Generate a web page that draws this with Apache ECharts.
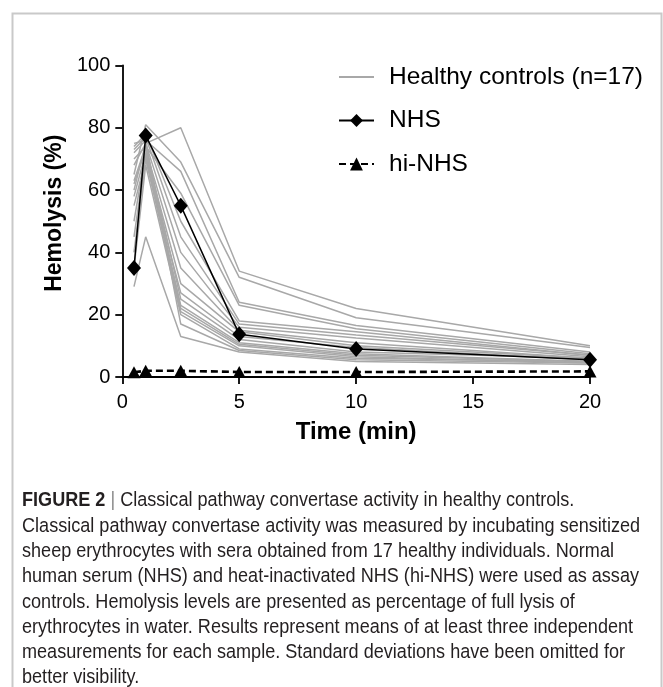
<!DOCTYPE html>
<html>
<head>
<meta charset="utf-8">
<script src="https://cdn.jsdelivr.net/npm/echarts@6/dist/echarts.min.js"></script>
<style>
html,body{margin:0;padding:0;background:#fff;}
#chart{width:663px;height:687px;}
</style>
</head>
<body>
<div id="chart"></div>
<script>
// Time points (min)
const times = [0.5, 1, 2.5, 5, 10, 20];
// Healthy controls (n=17), hemolysis % at each time point
const healthyControls = [
  [60, 75, 80, 34, 22, 10],
  [65, 81, 69, 32, 19, 9.5],
  [72, 76, 66, 24, 16.5, 8],
  [70, 74, 59, 23, 15.5, 7.5],
  [74, 78, 50, 18, 14.5, 7],
  [73, 77, 45, 17, 13.5, 7],
  [68, 75, 40, 16, 12.5, 6.5],
  [62, 73, 35, 15, 11, 6],
  [58, 72, 30, 14.5, 10, 6],
  [55, 70, 27, 13, 9.5, 5.5],
  [63, 74, 25, 12, 8, 6],
  [50, 72, 23, 11, 7.5, 5],
  [45, 71, 22, 10.5, 7, 5],
  [40, 70, 21, 10, 6.5, 4.5],
  [35, 68, 20, 9, 6, 5],
  [75, 76, 17, 8.5, 5.5, 4.5],
  [29, 45, 13, 8, 5, 4]
];
const nhs = [35, 77.5, 55, 13.7, 9, 5.5];
const hiNhs = [1.5, 2, 2, 1.6, 1.6, 1.8];
const xTicks = [0, 5, 10, 15, 20];
const yTicks = [0, 20, 40, 60, 80, 100];
const legendNames = ['Healthy controls (n=17)', 'NHS', 'hi-NHS'];
const captionLines = [
  'Classical pathway convertase activity in healthy controls.',
  'Classical pathway convertase activity was measured by incubating sensitized',
  'sheep erythrocytes with sera obtained from 17 healthy individuals. Normal',
  'human serum (NHS) and heat-inactivated NHS (hi-NHS) were used as assay',
  'controls. Hemolysis levels are presented as percentage of full lysis of',
  'erythrocytes in water. Results represent means of at least three independent',
  'measurements for each sample. Standard deviations have been omitted for',
  'better visibility.'
];

const pair = vals => times.map((t, i) => [t, vals[i]]);
const FONT = '"Liberation Sans", Arial, sans-serif';

const series = [];
healthyControls.forEach(vals => {
  series.push({
    name: legendNames[0], type: 'line', data: pair(vals),
    symbol: 'none', silent: true,
    lineStyle: {color: '#a8a8a8', width: 1.5},
    itemStyle: {color: '#a8a8a8'}, z: 2
  });
});
series.push({
  name: legendNames[1], type: 'line', data: pair(nhs),
  symbol: 'diamond', symbolSize: [14, 16],
  lineStyle: {color: '#000', width: 1.5},
  itemStyle: {color: '#000'}, z: 4
});
series.push({
  name: legendNames[2], type: 'line', data: pair(hiNhs),
  symbol: 'triangle', symbolSize: [13, 12],
  lineStyle: {color: '#000', width: 2.6, type: [7, 4]},
  itemStyle: {color: '#000'}, z: 5
});

const capStyle = {fontFamily: FONT, fontSize: 20.5, lineHeight: 25.3};
const captionText = '{b|FIGURE 2} {s||} {n|' + captionLines[0] + '}\n' +
  captionLines.slice(1).map(l => '{n|' + l + '}').join('\n');

const chart = echarts.init(document.getElementById('chart'), null, {renderer: 'canvas'});
chart.setOption({
  animation: false,
  backgroundColor: '#fff',
  graphic: [{
    type: 'rect', silent: true,
    shape: {x: 12.5, y: 13.5, width: 649, height: 720},
    style: {fill: 'none', stroke: '#c9c9c9', lineWidth: 2}
  }, {
    type: 'text', silent: true,
    x: 22, y: 488, scaleX: 0.882, scaleY: 1,
    style: {
      text: captionText,
      fontFamily: FONT, fontSize: 20.5, fill: '#231f20', lineHeight: 25.3,
      rich: {
        b: Object.assign({fontWeight: 'bold', fill: '#231f20'}, capStyle),
        s: Object.assign({fill: '#8a8a8a'}, capStyle),
        n: Object.assign({fill: '#231f20'}, capStyle)
      }
    }
  }],
  legend: {
    orient: 'vertical', left: 333, top: 59,
    itemWidth: 35, itemHeight: 16, itemGap: 17.5,
    selectedMode: false,
    data: [
      {name: legendNames[0], itemStyle: {opacity: 0}},
      {name: legendNames[1]},
      {name: legendNames[2]}
    ],
    textStyle: {fontFamily: FONT, fontSize: 24.5, color: '#000', lineHeight: 26, padding: [0, 0, 0, 10]}
  },
  grid: {left: 122.3, right: 73, top: 65.5, bottom: 310, containLabel: false},
  xAxis: {
    type: 'value', min: xTicks[0], max: xTicks[xTicks.length - 1], interval: 5,
    name: 'Time (min)', nameLocation: 'middle', nameGap: 43,
    nameTextStyle: {fontFamily: FONT, fontSize: 24, fontWeight: 'bold', color: '#000', verticalAlign: 'top'},
    axisLine: {show: true, onZero: false, lineStyle: {color: '#000', width: 1.8}},
    axisTick: {show: true, length: 7, lineStyle: {color: '#000', width: 1.8}},
    axisLabel: {fontFamily: FONT, fontSize: 20, color: '#000', margin: 15},
    splitLine: {show: false}
  },
  yAxis: {
    type: 'value', min: yTicks[0], max: yTicks[yTicks.length - 1], interval: 20,
    name: 'Hemolysis (%)', nameLocation: 'middle', nameGap: 56, nameRotate: 90,
    nameTextStyle: {fontFamily: FONT, fontSize: 23, fontWeight: 'bold', color: '#000', padding: [0, 0, 0, 16]},
    axisLine: {show: true, onZero: false, lineStyle: {color: '#000', width: 1.8}},
    axisTick: {show: true, length: 7, lineStyle: {color: '#000', width: 1.8}},
    axisLabel: {fontFamily: FONT, fontSize: 20, color: '#000', margin: 12},
    splitLine: {show: false}
  },
  series: series
});
</script>
</body>
</html>
